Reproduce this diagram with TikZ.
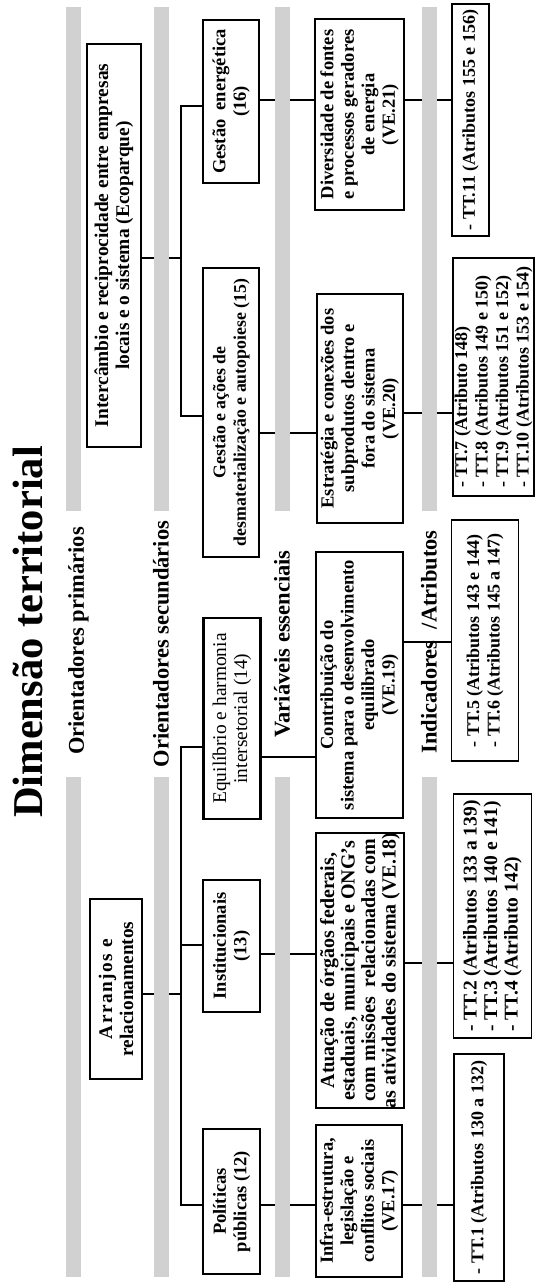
\documentclass[tikz,border=0pt]{standalone}
\usepackage{fontspec}
\setmainfont{Liberation Serif}
\usepackage{tikz}

\begin{document}
\begin{tikzpicture}[x=1pt, y=-1pt,
		box_style/.style={draw=black, line width=2.4pt, rotate=90, align=center, inner sep=0pt, font=\bfseries\fontsize{18.5}{20.5}\selectfont},
		tt_style/.style={draw=black, line width=1.5pt, rotate=90, align=left, inner sep=0pt, font=\bfseries\fontsize{18}{20.5}\selectfont},
		label_style/.style={rotate=90, inner sep=0pt, font=\bfseries\fontsize{22.5}{26}\selectfont},
		edge_style/.style={draw=black, line width=2.4pt},
		bar_style/.style={fill=black!18}]
		\useasboundingbox (0,0) rectangle (536,1283);
		% titulo e faixas
		\node[rotate=90, inner sep=0pt, font=\bfseries\fontsize{42.5}{46}\selectfont] (titulo) at (28,632) {Dimensão territorial};
		\node[label_style] (prim) at (78.5,641) {Orientadores primários};
		\node[label_style] (sec) at (161,644) {Orientadores secundários};
		\node[label_style] (ess) at (282,644) {Variáveis essenciais};
		\node[label_style] (ind) at (429,642) {Indicadores \ /Atributos};
		% orientadores primarios
		\node[box_style, minimum width=403pt, minimum height=54pt, font=\bfseries\fontsize{19.4}{21}\selectfont] (eco) at (113.75,245.5) {Intercâmbio e reciprocidade entre empresas\\locais e o sistema (Ecoparque)};
		\node[box_style, minimum width=180pt, minimum height=52pt, font=\bfseries\fontsize{19.3}{21}\selectfont] (arr) at (116,989) {{\addfontfeature{LetterSpace=8}Arranjos e}\\relacionamentos};
		% orientadores secundarios
		\node[box_style, minimum width=163pt, minimum height=56pt] (g16) at (231.25,101.5) {Gestão~ energética\\(16)};
		\node[box_style, minimum width=289pt, minimum height=56pt, font=\bfseries\fontsize{17.8}{20.5}\selectfont] (g15) at (231.25,412.5) {Gestão e ações de\\desmaterialização e autopoiese (15)};
		\node[box_style, minimum width=201pt, minimum height=57pt, font=\fontsize{19.4}{21}\selectfont] (g14) at (232,718.5) {Equilíbrio e harmonia\\intersetorial (14)};
		\node[box_style, minimum width=132pt, minimum height=57pt] (g13) at (231.75,946) {Institucionais\\(13)};
		\node[box_style, minimum width=145pt, minimum height=57pt] (g12) at (231.75,1201.5) {Políticas\\públicas (12)};
		% variaveis essenciais
		\node[box_style, minimum width=191pt, minimum height=89pt] (ve21) at (359.5,114.5) {Diversidade de fontes\\e processos geradores\\de energia\\(VE.21)};
		\node[box_style, minimum width=229pt, minimum height=86pt] (ve20) at (360,408.5) {Estratégia e conexões dos\\subprodutos dentro e\\fora do sistema\\(VE.20)};
		\node[box_style, minimum width=266pt, minimum height=87pt] (ve19) at (359.5,685) {Contribuição do\\sistema para o desenvolvimento\\equilibrado\\(VE.19)};
		\node[box_style, minimum width=273pt, minimum height=88pt, font=\bfseries\fontsize{20}{20.5}\selectfont] (ve18) at (360,970.5) {Atuação de órgãos federais,\\estaduais, municipais e ONG's\\com missões~ relacionadas com\\as atividades do sistema (VE.18)};
		\node[box_style, minimum width=152pt, minimum height=86pt] (ve17) at (359,1201) {Infra-estrutura,\\legislação e\\conflitos sociais\\(VE.17)};
		% indicadores / atributos
		\node[tt_style, minimum width=232pt, minimum height=37pt] (tt11) at (470.5,120) {- TT.11 (Atributos 155 e 156)};
		\node[tt_style, minimum width=238pt, minimum height=81pt] (tt7) at (493.5,377) {- TT.7 (Atributo 148)\\- TT.8 (Atributos 149 e 150)\\- TT.9 (Atributos 151 e 152)\\- TT.10 (Atributos 153 e 154)};
		\node[tt_style, minimum width=241pt, minimum height=67pt] (tt5) at (485,640.5) {- TT.5 (Atributos 143 e 144)\\- TT.6 (Atributos 145 a 147)};
		\node[tt_style, minimum width=244pt, minimum height=78pt, font=\bfseries\fontsize{19.5}{20.5}\selectfont] (tt2) at (492.5,916) {- TT.2 (Atributos 133 a 139)\\- TT.3 (Atributos 140 e 141)\\- TT.4 (Atributo 142)};
		\node[tt_style, minimum width=227pt, minimum height=50pt] (tt1) at (479,1167.5) {- TT.1 (Atributos 130 a 132)};
		% niveis das ligacoes
		\coordinate (jr) at (181,0);
		\coordinate (lEco) at (0,258);
		\coordinate (l16) at (0,106);
		\coordinate (l16b) at (0,100);
		\coordinate (l15) at (0,416);
		\coordinate (l15b) at (0,433);
		\coordinate (l20) at (0,413);
		\coordinate (l14) at (0,747);
		\coordinate (l14b) at (0,757);
		\coordinate (l19) at (0,642);
		\coordinate (lArr) at (0,994);
		\coordinate (l13) at (0,945);
		\coordinate (l13b) at (0,954);
		\coordinate (l18) at (0,963);
		\coordinate (l12) at (0,1205);
		% ligacoes
		\draw[edge_style] (eco.south |- lEco) -- (jr |- lEco);
		\draw[edge_style] (g16.north |- l16) -| (jr |- l15) -- (g15.north |- l15);
		\draw[edge_style] (g16.south |- l16b) -- (ve21.north |- l16b);
		\draw[edge_style] (ve21.south |- l16b) -- (tt11.north |- l16b);
		\draw[edge_style] (g15.south |- l15b) -- (ve20.north |- l15b);
		\draw[edge_style] (ve20.south |- l20) -- (tt7.north |- l20);
		\draw[edge_style] (arr.south |- lArr) -- (jr |- lArr);
		\draw[edge_style] (g14.north |- l14) -| (jr |- l12) -- (g12.north |- l12);
		\draw[edge_style] (g13.north |- l13) -- (jr |- l13);
		\draw[edge_style] (g14.south |- l14b) -- (ve19.north |- l14b);
		\draw[edge_style] (ve19.south |- l19) -- (tt5.north |- l19);
		\draw[edge_style] (g13.south |- l13b) -- (ve18.north |- l13b);
		\draw[edge_style] (ve18.south |- l18) -- (tt2.north |- l18);
		\draw[edge_style] (g12.south |- l12) -- (ve17.north |- l12);
		\draw[edge_style] (ve17.south |- l12) -- (tt1.north |- l12);
		% faixas cinzentas
		\foreach \x in {73,161.5,282.5,429} {
			\fill[bar_style] (\x-7.5,7) rectangle (\x+7.5,511);
			\fill[bar_style] (\x-7.5,777) rectangle (\x+7.5,1277);
		}
\end{tikzpicture}
\end{document}
